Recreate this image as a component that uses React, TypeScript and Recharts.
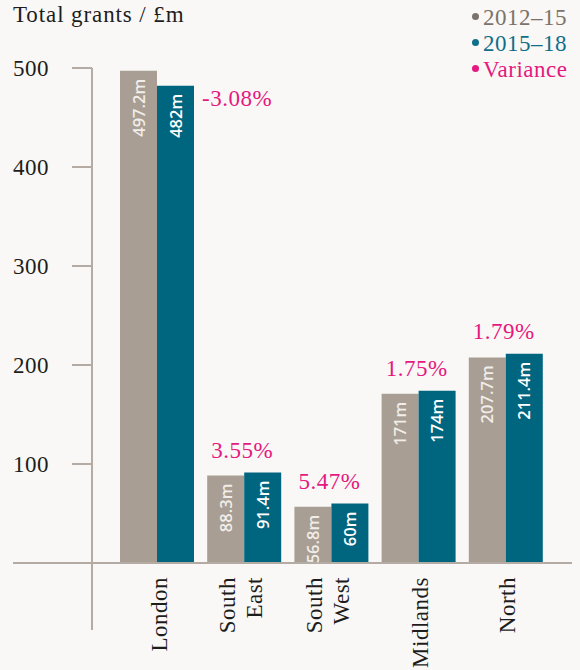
import { Bar, BarChart, LabelList, Legend, XAxis, YAxis } from 'recharts'

const regions = ['London', 'South East', 'South West', 'Midlands', 'North']
const grants2012 = [497.2, 88.3, 56.8, 171, 207.7]
const grants2015 = [482, 91.4, 60, 174, 211.4]
const variance = ['-3.08%', '3.55%', '5.47%', '1.75%', '1.79%']
const yTicks = [0, 100, 200, 300, 400, 500]

const GREY = '#a89e94'
const TEAL = '#006680'
const PINK = '#e5197f'
const AXIS = '#b4aca4'
const INK = '#1d1d1d'
const BG = '#f9f8f6'
const SERIF = 'Liberation Serif, DejaVu Serif, serif'
const SANS = 'Open Sans, sans-serif'
const TOP = 68

const data = regions.map((region, i) => ({
  region,
  early: grants2012[i],
  late: grants2015[i],
  earlyLabel: `${grants2012[i]}m`,
  lateLabel: `${grants2015[i]}m`,
  variance: variance[i],
}))

const legendRows = [
  { label: '2012–15', color: '#7b736b' },
  { label: '2015–18', color: '#0f6f8a' },
  { label: 'Variance', color: PINK },
]

const serifText = { fontFamily: SERIF, fontSize: 23, letterSpacing: 0.5 }

const YTick = ({ x, y, payload }: any) => {
  if (payload.value === 0) {
    return (
      <g>
        <line x1={x - 79} x2={x} y1={y} y2={y} stroke={AXIS} strokeWidth={2} />
        <line x1={x} x2={x} y1={y} y2={y + 67} stroke={AXIS} strokeWidth={2} />
      </g>
    )
  }
  return (
    <g>
      <line x1={x - 20} x2={x} y1={y} y2={y} stroke={AXIS} strokeWidth={2} />
      <text x={x - 43} y={y + 8} textAnchor="end" fill={INK} style={serifText}>
        {payload.value}
      </text>
    </g>
  )
}

const XTick = ({ x, y, payload }: any) => {
  const words = String(payload.value).split(' ')
  const offsets = words.length > 1 ? [-9, 18] : [10]
  return (
    <g>
      {words.map((w, i) => (
        <text
          key={w}
          transform={`translate(${x + offsets[i]},${y}) rotate(-90)`}
          textAnchor="end"
          fill={INK}
          style={serifText}
        >
          {w}
        </text>
      ))}
    </g>
  )
}

const valueLabel = (fill: string) => (props: any) => {
  const { x, y, width, value } = props
  return (
    <text
      transform={`translate(${x + width / 2 + 6},${y + 8}) rotate(-90)`}
      textAnchor="end"
      fill={fill}
      style={{ fontFamily: SANS, fontWeight: 600, fontSize: 16.5 }}
    >
      {value}
    </text>
  )
}

const VarianceLabel = (props: any) => {
  const { x, y, width, value } = props
  const outside = y - 32 < TOP
  return (
    <text
      x={outside ? x + width + 8 : x - 2}
      y={outside ? y + 20 : y - 15}
      textAnchor={outside ? 'start' : 'middle'}
      fill={PINK}
      style={serifText}
    >
      {value}
    </text>
  )
}

const LegendBox = () => (
  <div style={{ ...serifText, lineHeight: '26px' }}>
    {legendRows.map((r) => (
      <div key={r.label} style={{ position: 'relative', paddingLeft: 12, color: r.color, whiteSpace: 'nowrap' }}>
        <span
          style={{
            position: 'absolute',
            left: 1,
            top: 8,
            width: 7,
            height: 7,
            borderRadius: '50%',
            background: r.color,
          }}
        />
        {r.label}
      </div>
    ))}
  </div>
)

export default function App() {
  return (
    <div style={{ position: 'absolute', left: 0, top: 0, width: 580, height: 670, background: BG, overflow: 'hidden' }}>
      <div
        style={{
          position: 'absolute',
          left: 13,
          top: 2,
          ...serifText,
          letterSpacing: 0.9,
          lineHeight: '26px',
          color: INK,
          whiteSpace: 'nowrap',
        }}
      >
        Total grants / £m
      </div>
      <BarChart
        width={580}
        height={670}
        data={data}
        margin={{ top: TOP, right: 8, bottom: 0, left: 0 }}
        barCategoryGap={7}
        barGap={0}
      >
        <XAxis
          dataKey="region"
          height={107}
          padding={{ left: 21, right: 23 }}
          tickLine={false}
          tickSize={0}
          tickMargin={14}
          interval={0}
          axisLine={{ stroke: AXIS, strokeWidth: 2 }}
          tick={<XTick />}
        />
        <YAxis
          width={92}
          domain={[0, 500]}
          ticks={yTicks}
          interval={0}
          tickLine={false}
          tickSize={0}
          tickMargin={0}
          axisLine={{ stroke: AXIS, strokeWidth: 2 }}
          tick={<YTick />}
        />
        <Legend
          layout="vertical"
          verticalAlign="middle"
          align="center"
          wrapperStyle={{ position: 'absolute', top: 5, left: 471, width: 109 }}
          content={<LegendBox />}
        />
        <Bar dataKey="early" name="2012–15" fill={GREY} isAnimationActive={false}>
          <LabelList dataKey="earlyLabel" content={valueLabel('#f1ede8')} />
        </Bar>
        <Bar dataKey="late" name="2015–18" fill={TEAL} isAnimationActive={false}>
          <LabelList dataKey="lateLabel" content={valueLabel('#ffffff')} />
          <LabelList dataKey="variance" content={VarianceLabel} />
        </Bar>
      </BarChart>
    </div>
  )
}
